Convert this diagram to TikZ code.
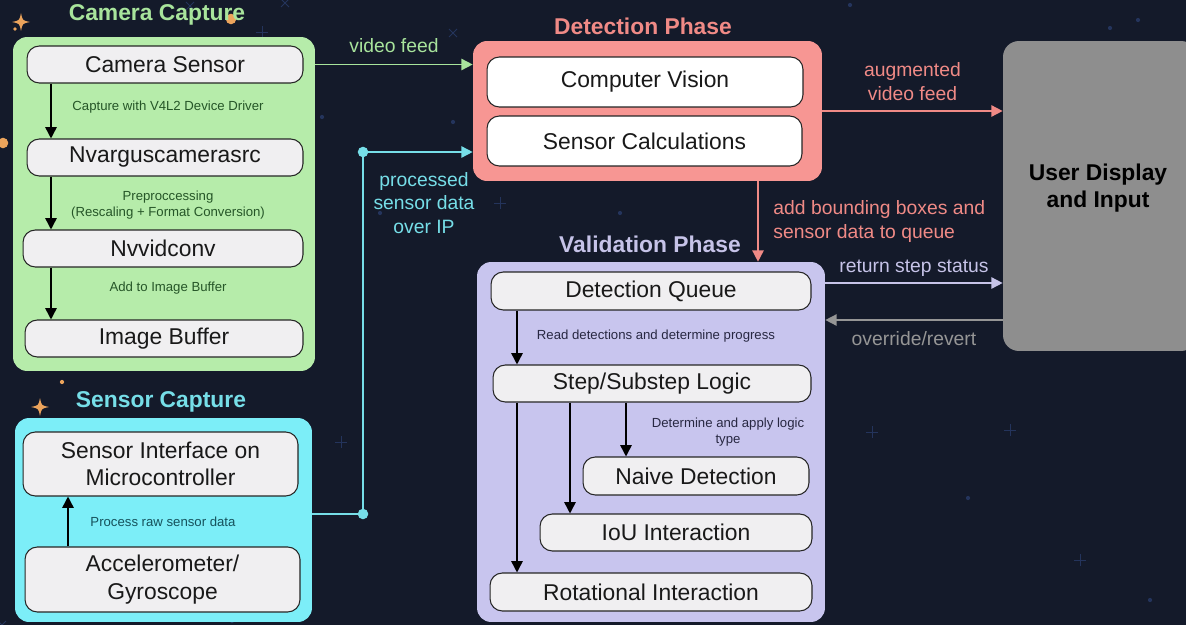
\documentclass[tikz,border=0pt]{standalone}
\usepackage{fontspec}
\setmainfont{Liberation Sans}
\usetikzlibrary{arrows.meta,calc}

\definecolor{bgnavy}{RGB}{20,26,42}
\definecolor{camfill}{RGB}{182,236,170}
\definecolor{camtitle}{RGB}{168,228,156}
\definecolor{camnote}{RGB}{38,86,40}
\definecolor{sensfill}{RGB}{124,238,248}
\definecolor{senstitle}{RGB}{118,222,232}
\definecolor{sensnote}{RGB}{22,82,92}
\definecolor{detfill}{RGB}{247,150,147}
\definecolor{dettitle}{RGB}{240,138,134}
\definecolor{valfill}{RGB}{200,197,238}
\definecolor{valtitle}{RGB}{198,195,232}
\definecolor{valnote}{RGB}{40,40,66}
\definecolor{userfill}{RGB}{142,142,142}
\definecolor{userline}{RGB}{150,150,150}
\definecolor{stagefill}{RGB}{240,239,241}
\definecolor{sparkle}{RGB}{236,164,92}
\definecolor{dimstar}{RGB}{36,52,92}

\tikzset{
  group/.style={draw=none, rounded corners=8pt, inner sep=0pt},
  stage/.style={draw=black!85, line width=0.6pt, rounded corners=7pt, fill=stagefill,
    text=black!90, font=\fontsize{13}{15.5}\selectfont, align=center, inner sep=0pt},
  grouptitle/.style={font=\fontsize{13}{15}\selectfont\bfseries},
  note/.style={font=\fontsize{7.5}{9}\selectfont, align=center},
  linklabel/.style={font=\fontsize{11}{13.5}\selectfont, align=center},
  flow/.style={-{Triangle[length=6.5pt,width=6.5pt]}, line width=0.9pt, black},
  feed/.style={-{Triangle[length=6.5pt,width=6.5pt]}, line width=0.9pt},
  tapdot/.style={circle, fill=senstitle, inner sep=0pt, minimum size=6pt},
}

\begin{document}
\begin{tikzpicture}[x=0.02cm, y=-0.02cm]
  \clip (0,0) rectangle (1186,625);
  \fill[bgnavy] (0,0) rectangle (1186,625);

  % faint background stars
  \foreach \sx/\sy in {322/117, 453/122, 380/213, 620/213, 1138/20, 1162/52, 1110/28, 968/498, 850/5, 700/612, 1150/600, 232/621} {
    \fill[dimstar] (\sx,\sy) circle (1.2pt);
  }
  \foreach \sx/\sy in {341/442, 500/203, 872/432, 1010/430, 1080/560, 262/32} {
    \draw[dimstar, line width=0.5pt] (\sx-6,\sy) -- (\sx+6,\sy) (\sx,\sy-6) -- (\sx,\sy+6);
  }
  \foreach \sx/\sy in {453/33, 285/3, 2/625, 190/6} {
    \draw[dimstar, line width=0.5pt] (\sx-4,\sy-4) -- (\sx+4,\sy+4) (\sx-4,\sy+4) -- (\sx+4,\sy-4);
  }
  \foreach \sx/\sy in {21/22, 40/407} {
    \fill[sparkle] (\sx,\sy-9) .. controls (\sx+1.5,\sy-1.5) .. (\sx+9,\sy)
      .. controls (\sx+1.5,\sy+1.5) .. (\sx,\sy+9)
      .. controls (\sx-1.5,\sy+1.5) .. (\sx-9,\sy)
      .. controls (\sx-1.5,\sy-1.5) .. cycle;
  }
  \fill[sparkle] (231,19) circle (3pt);
  \fill[sparkle] (3,143) circle (3pt);
  \fill[sparkle] (62,382) circle (1.2pt);
  \fill[sparkle] (15,29) circle (1pt);

  % Camera Capture
  \node[group, fill=camfill, minimum width=6.04cm, minimum height=6.68cm] (camgrp) at (164,204) {};
  \node[grouptitle, text=camtitle] (camttl) at (157,15) {Camera Capture};
  \node[stage, minimum width=5.52cm, minimum height=0.74cm] (cam) at (165,64.5) {Camera Sensor};
  \node[stage, minimum width=5.52cm, minimum height=0.74cm] (nvarg) at (165,157.5) {Nvarguscamerasrc};
  \node[stage, minimum width=5.60cm, minimum height=0.74cm] (nvvid) at (163,248.5) {Nvvidconv};
  \node[stage, minimum width=5.56cm, minimum height=0.74cm] (imgbuf) at (164,338.5) {Image Buffer};
  \coordinate (camx) at (51,0);
  \draw[flow] (cam.south -| camx) -- (nvarg.north -| camx);
  \draw[flow] (nvarg.south -| camx) -- (nvvid.north -| camx);
  \draw[flow] (nvvid.south -| camx) -- (imgbuf.north -| camx);
  \node[note, text=camnote] (capnote) at (168,107) {Capture with V4L2 Device Driver};
  \node[note, text=camnote] (prenote) at (168,205) {Preproccessing\\(Rescaling + Format Conversion)};
  \node[note, text=camnote] (bufnote) at (168,288) {Add to Image Buffer};

  % Sensor Capture
  \node[group, fill=sensfill, minimum width=5.94cm, minimum height=4.08cm] (sensgrp) at (163.5,520) {};
  \node[grouptitle, text=senstitle] (sensttl) at (161,402) {Sensor Capture};
  \node[stage, minimum width=5.50cm, minimum height=1.28cm] (sensif) at (160.5,464) {Sensor Interface on\\Microcontroller};
  \node[stage, minimum width=5.50cm, minimum height=1.30cm] (accel) at (162.5,579.5) {Accelerometer/\\Gyroscope};
  \coordinate (accx) at (68,0);
  \draw[flow] (accel.north -| accx) -- (sensif.south -| accx);
  \node[note, text=sensnote] (rawnote) at (163,522) {Process raw sensor data};

  % Detection Phase
  \node[group, fill=detfill, minimum width=6.98cm, minimum height=2.80cm] (detgrp) at (647.5,111) {};
  \node[grouptitle, text=dettitle] (detttl) at (643,26) {Detection Phase};
  \node[stage, fill=white, minimum width=6.32cm, minimum height=1.00cm] (cv) at (645,82) {Computer Vision};
  \node[stage, fill=white, minimum width=6.30cm, minimum height=1.00cm] (calc) at (644.5,141) {Sensor Calculations};

  % Validation Phase
  \node[group, fill=valfill, minimum width=6.96cm, minimum height=7.20cm] (valgrp) at (651,442) {};
  \node[grouptitle, text=valtitle] (valttl) at (650,244) {Validation Phase};
  \node[stage, minimum width=6.40cm, minimum height=0.76cm] (queue) at (651,291) {Detection Queue};
  \node[stage, minimum width=6.36cm, minimum height=0.74cm] (logic) at (652,383.5) {Step/Substep Logic};
  \node[stage, minimum width=4.52cm, minimum height=0.76cm] (naive) at (696,476) {Naive Detection};
  \node[stage, minimum width=5.44cm, minimum height=0.74cm] (iou) at (676,532.5) {IoU Interaction};
  \node[stage, minimum width=6.44cm, minimum height=0.76cm] (rot) at (651,592) {Rotational Interaction};
  \coordinate (rotx) at (517,0);
  \coordinate (ioux) at (570,0);
  \coordinate (naivex) at (626,0);
  \draw[flow] (queue.south -| rotx) -- (logic.north -| rotx);
  \draw[flow] (logic.south -| rotx) -- (rot.north -| rotx);
  \draw[flow] (logic.south -| ioux) -- (iou.north -| ioux);
  \draw[flow] (logic.south -| naivex) -- (naive.north -| naivex);
  \node[note, text=valnote] (readnote) at (656,336) {Read detections and determine progress};
  \node[note, text=valnote] (typenote) at (728,432) {Determine and apply logic\\type};

  % User Display and Input
  \node[group, fill=userfill, rounded corners=9pt, minimum width=3.88cm, minimum height=6.20cm] (user) at (1100,196) {};
  \node[font=\fontsize{13}{15.5}\selectfont\bfseries, align=center, text=black] (userttl) at (1098,188) {User Display\\and Input};

  % links between phases
  \draw[feed, camtitle] (cam.east -| camgrp.east) -- (cam.east -| detgrp.west)
    node[midway, above=3pt, linklabel, text=camtitle] {video feed};

  \coordinate (tapL) at (363,514);
  \coordinate (tapU) at (363,152);
  \draw[line width=0.9pt, senstitle] (tapL -| sensgrp.east) -- (tapL) -- (tapU);
  \draw[feed, senstitle] (tapU) -- (tapU -| detgrp.west);
  \node[tapdot] at (tapL) {};
  \node[tapdot] at (tapU) {};
  \node[linklabel, text=senstitle] (iplabel) at (424,203) {processed\\sensor data\\over IP};

  \draw[feed, dettitle] (detgrp.east) -- (detgrp.east -| user.west)
    node[midway, above=2pt, linklabel, text=dettitle] {augmented\\video feed};

  \coordinate (qx) at (758,0);
  \draw[feed, dettitle] (detgrp.south -| qx) -- (valgrp.north -| qx)
    node[midway, right=5pt, linklabel, align=left, text=dettitle] {add bounding boxes and\\sensor data to queue};

  \coordinate (retY) at (0,283);
  \coordinate (ovrY) at (0,320);
  \draw[feed, valtitle] (retY -| valgrp.east) -- (retY -| user.west)
    node[midway, above=0pt, linklabel, text=valtitle] {return step status};
  \draw[feed, userline] (ovrY -| user.west) -- (ovrY -| valgrp.east)
    node[midway, below=3pt, linklabel, text=userline] {override/revert};
\end{tikzpicture}
\end{document}
